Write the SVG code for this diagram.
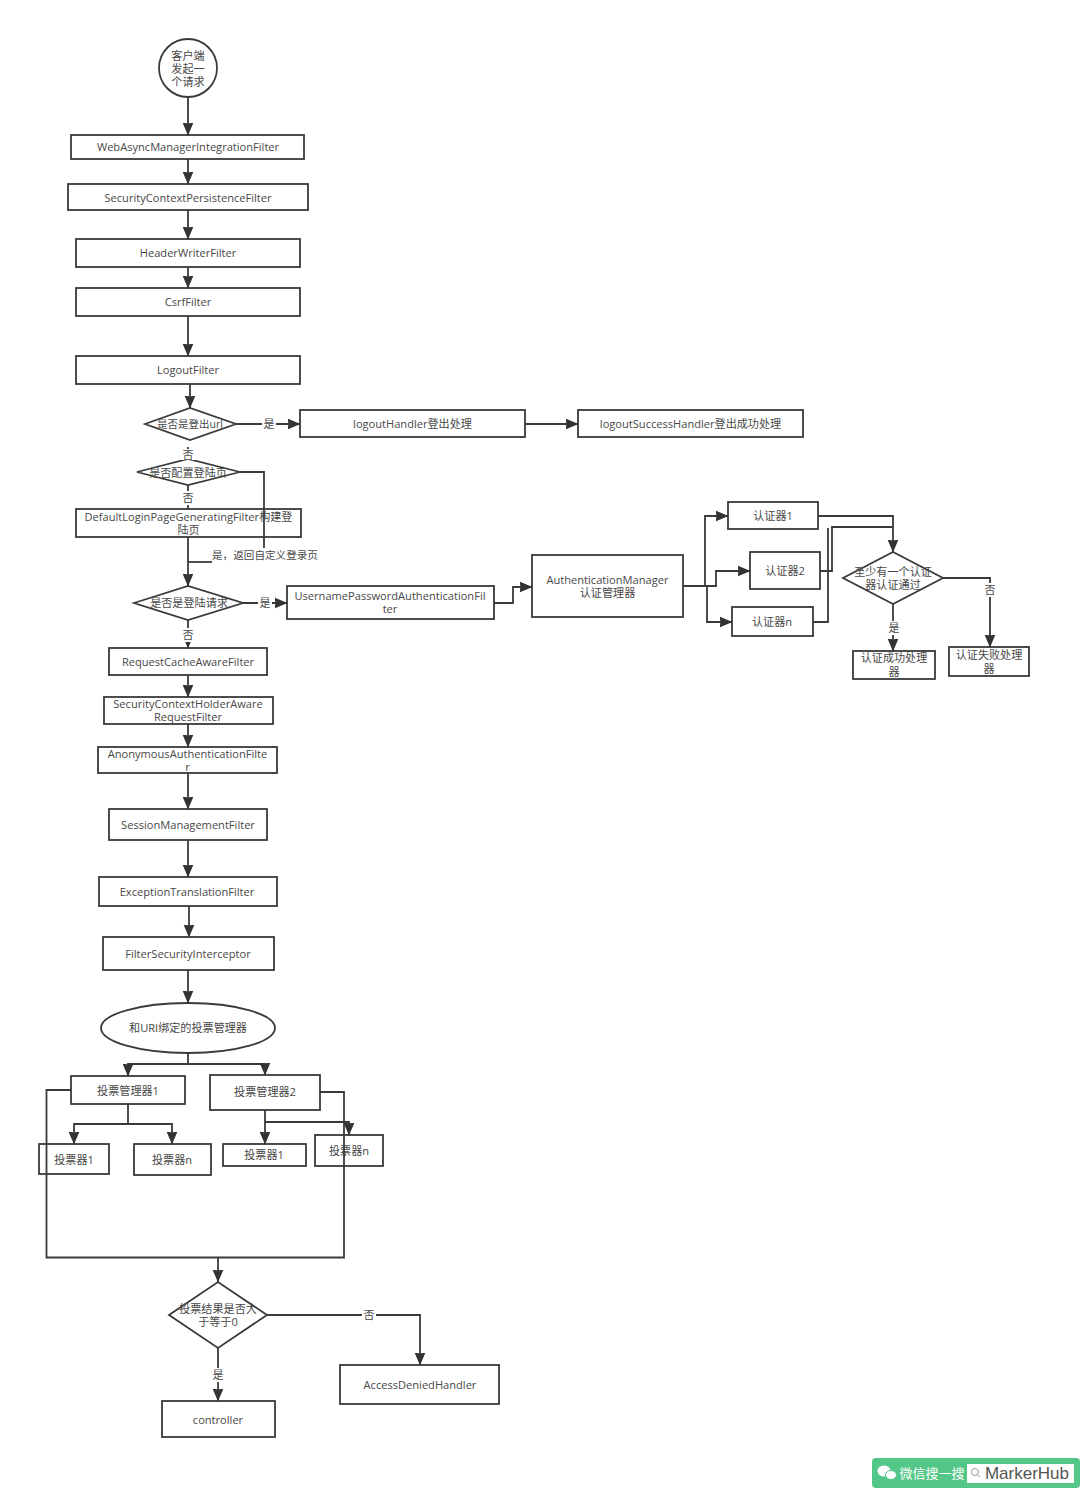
<svg xmlns="http://www.w3.org/2000/svg" width="1080" height="1488" viewBox="0 0 1080 1488">
<style>
.n{fill:#fff;stroke:#3a3a3a;stroke-width:1.800}
.c{fill:none;stroke:#3a3a3a;stroke-width:1.800}
.a{marker-end:url(#ah)}
text{font-family:"Open Sans","Noto Sans CJK SC",sans-serif;font-size:11.100px;fill:#484848;text-anchor:middle}
.l{font-size:11px}
.bg{fill:#fff}
</style>
<defs><marker id="ah" markerUnits="userSpaceOnUse" markerWidth="14" markerHeight="12" refX="12.500" refY="6" orient="auto"><path d="M0 0.500L13 6L0 11.500L1 6Z" fill="#333"/></marker></defs>
<rect width="1080" height="1488" fill="#fff"/>
<g id="start"><circle class="n" cx="188" cy="68" r="29"/><text x="188" y="60">客户端</text><text x="188" y="73">发起一</text><text x="188" y="86">个请求</text></g>
<g id="n1"><rect class="n" x="71" y="135" width="233" height="24"/><text x="188" y="151">WebAsyncManagerIntegrationFilter</text></g>
<g id="n2"><rect class="n" x="68" y="184" width="240" height="26"/><text x="188" y="202">SecurityContextPersistenceFilter</text></g>
<g id="n3"><rect class="n" x="76" y="239" width="224" height="28"/><text x="188" y="257">HeaderWriterFilter</text></g>
<g id="n4"><rect class="n" x="76" y="288" width="224" height="28"/><text x="188" y="306">CsrfFilter</text></g>
<g id="n5"><rect class="n" x="76" y="356" width="224" height="28"/><text x="188" y="374">LogoutFilter</text></g>
<g id="d1"><path class="n" d="M145 424L190 408L236 424L190 440Z"/><text x="190" y="428" style="font-size:10.500px">是否是登出url</text></g>
<g id="n6"><rect class="n" x="300" y="410" width="225" height="27"/><text x="412.500" y="428">logoutHandler登出处理</text></g>
<g id="n7"><rect class="n" x="578" y="410" width="225" height="27"/><text x="690.500" y="428">logoutSuccessHandler登出成功处理</text></g>
<g id="d2"><path class="n" d="M137 472L188 459L240 472L188 485Z"/><text x="188" y="477">是否配置登陆页</text></g>
<g id="n8"><rect class="n" x="76" y="509" width="225" height="28"/><text x="188.500" y="521">DefaultLoginPageGeneratingFilter构建登</text><text x="188.500" y="534">陆页</text></g>
<g id="d3"><path class="n" d="M134 603L188 586L243 603L188 620Z"/><text x="189" y="607">是否是登陆请求</text></g>
<g id="n9"><rect class="n" x="287" y="586" width="207" height="33"/><text x="390" y="600">UsernamePasswordAuthenticationFil</text><text x="390" y="613">ter</text></g>
<g id="n10"><rect class="n" x="532" y="555" width="151" height="62"/><text x="607.500" y="584">AuthenticationManager</text><text x="607.500" y="597">认证管理器</text></g>
<g id="a1"><rect class="n" x="728" y="502" width="90" height="27"/><text x="773" y="520">认证器1</text></g>
<g id="a2"><rect class="n" x="750" y="552" width="70" height="37"/><text x="785" y="575">认证器2</text></g>
<g id="an"><rect class="n" x="732" y="607" width="81" height="29"/><text x="772" y="626">认证器n</text></g>
<g id="d4"><path class="n" d="M843 578L893 552L943 578L893 604Z"/><text x="893" y="576">至少有一个认证</text><text x="893" y="589">器认证通过</text></g>
<g id="ok"><rect class="n" x="853" y="651" width="82" height="28"/><text x="894" y="662">认证成功处理</text><text x="894" y="676">器</text></g>
<g id="fail"><rect class="n" x="949" y="647" width="80" height="29"/><text x="989" y="659">认证失败处理</text><text x="989" y="673">器</text></g>
<g id="n11"><rect class="n" x="109" y="648" width="158" height="27"/><text x="188" y="666">RequestCacheAwareFilter</text></g>
<g id="n12"><rect class="n" x="104" y="697" width="169" height="27"/><text x="188" y="708">SecurityContextHolderAware</text><text x="188" y="721">RequestFilter</text></g>
<g id="n13"><rect class="n" x="98" y="747" width="179" height="26"/><text x="187.500" y="758">AnonymousAuthenticationFilte</text><text x="187.500" y="771">r</text></g>
<g id="n14"><rect class="n" x="109" y="809" width="158" height="31"/><text x="188" y="829">SessionManagementFilter</text></g>
<g id="n15"><rect class="n" x="99" y="877" width="178" height="29"/><text x="187" y="896">ExceptionTranslationFilter</text></g>
<g id="n16"><rect class="n" x="103" y="937" width="171" height="33"/><text x="188" y="958">FilterSecurityInterceptor</text></g>
<g id="e"><ellipse class="n" cx="188" cy="1028" rx="87" ry="25"/><text x="188" y="1032">和URI绑定的投票管理器</text></g>
<g id="m1"><rect class="n" x="71" y="1076" width="114" height="28"/><text x="128" y="1095">投票管理器1</text></g>
<g id="m2"><rect class="n" x="210" y="1075" width="110" height="35"/><text x="265" y="1096">投票管理器2</text></g>
<g id="v1"><rect class="n" x="39" y="1144" width="70" height="30"/><text x="74" y="1164">投票器1</text></g>
<g id="v2"><rect class="n" x="134" y="1144" width="77" height="31"/><text x="172" y="1164">投票器n</text></g>
<g id="v3"><rect class="n" x="223" y="1144" width="83" height="22"/><text x="264" y="1159">投票器1</text></g>
<g id="v4"><rect class="n" x="315" y="1135" width="68" height="31"/><text x="349" y="1155">投票器n</text></g>
<g id="d5"><path class="n" d="M169 1315L218 1282L267 1315L218 1348Z"/><text x="218" y="1313">投票结果是否大</text><text x="218" y="1326">于等于0</text></g>
<g id="denied"><rect class="n" x="340" y="1365" width="159" height="39"/><text x="420" y="1389">AccessDeniedHandler</text></g>
<g id="ctrl"><rect class="n" x="162" y="1401" width="113" height="36"/><text x="218" y="1424">controller</text></g>
<g id="connectors">
<path class="c a" d="M188 97V135"/><path class="c a" d="M188 159V184"/><path class="c a" d="M188 210V239"/><path class="c a" d="M188 267V288"/><path class="c a" d="M188 316V356"/><path class="c a" d="M190 384V408"/>
<path class="c a" d="M236 424H300"/><path class="c a" d="M525 424H578"/>
<path class="c" d="M188 447V450"/><path class="c" d="M188 485V509"/>
<path class="c" d="M240 472H264V548"/><path class="c" d="M212 562H188"/><path class="c a" d="M188 537V586"/>
<path class="c a" d="M243 603H287"/><path class="c a" d="M188 620V648"/>
<path class="c a" d="M494 603H513V587H532"/>
<path class="c a" d="M683 586H705V516H728"/><path class="c a" d="M705 586H716V571H750"/><path class="c a" d="M707 586V622H732"/>
<path class="c a" d="M818 516H893V552"/><path class="c" d="M820 571H832V527H893"/><path class="c" d="M813 622H828V528"/>
<path class="c a" d="M943 578H990V647"/><path class="c a" d="M893 604V651"/>
<path class="c a" d="M188 675V697"/><path class="c a" d="M188 724V747"/><path class="c a" d="M188 773V809"/><path class="c a" d="M188 840V877"/><path class="c a" d="M189 906V937"/><path class="c a" d="M188 970V1003"/>
<path class="c a" d="M188 1053V1064H128V1076"/><path class="c a" d="M188 1064H265V1075"/>
<path class="c a" d="M128 1104V1124H74V1144"/><path class="c a" d="M128 1124H172V1144"/>
<path class="c a" d="M265 1110V1144"/><path class="c a" d="M265 1122H349V1135"/>
<path class="c" d="M71 1090H46.500V1257.500H344V1092H320"/><path class="c a" d="M218 1257V1282"/>
<path class="c a" d="M267 1315H420V1365"/><path class="c a" d="M218 1348V1401"/>
</g>
<g id="labels">
<rect class="bg" x="262" y="417" width="14" height="14"/><text class="l" x="269" y="428">是</text>
<rect class="bg" x="181" y="449" width="14" height="11"/><text class="l" x="188" y="459">否</text>
<rect class="bg" x="181" y="491" width="14" height="14"/><text class="l" x="188" y="502">否</text>
<text class="l" x="265" y="559" style="font-size:10.600px">是，返回自定义登录页</text>
<rect class="bg" x="258" y="597" width="14" height="13"/><text class="l" x="265" y="607">是</text>
<rect class="bg" x="181" y="628" width="14" height="14"/><text class="l" x="188" y="639">否</text>
<rect class="bg" x="983" y="583" width="14" height="14"/><text class="l" x="990" y="594">否</text>
<rect class="bg" x="887" y="621" width="14" height="14"/><text class="l" x="894" y="632">是</text>
<rect class="bg" x="362" y="1309" width="14" height="13"/><text class="l" x="369" y="1319">否</text>
<rect class="bg" x="211" y="1368" width="14" height="14"/><text class="l" x="218" y="1379">是</text>
</g>
<g id="watermark">
<rect x="872" y="1458" width="208" height="30" rx="4" fill="#53c787"/>
<rect x="967" y="1464" width="107" height="19" fill="#fff"/>
<ellipse cx="884" cy="1471" rx="6.500" ry="5.500" fill="#fff"/><ellipse cx="891" cy="1475" rx="5.500" ry="4.500" fill="#fff" stroke="#53c787"/>
<text x="932" y="1478" style="font-size:13px;fill:#fff">微信搜一搜</text>
<circle cx="975" cy="1472" r="3.500" fill="none" stroke="#999"/><path d="M977.500 1474.500L980 1477" stroke="#999"/>
<text x="1027" y="1479" style="font-size:17px;fill:#555;font-family:'Liberation Sans',sans-serif">MarkerHub</text>
</g>
</svg>
